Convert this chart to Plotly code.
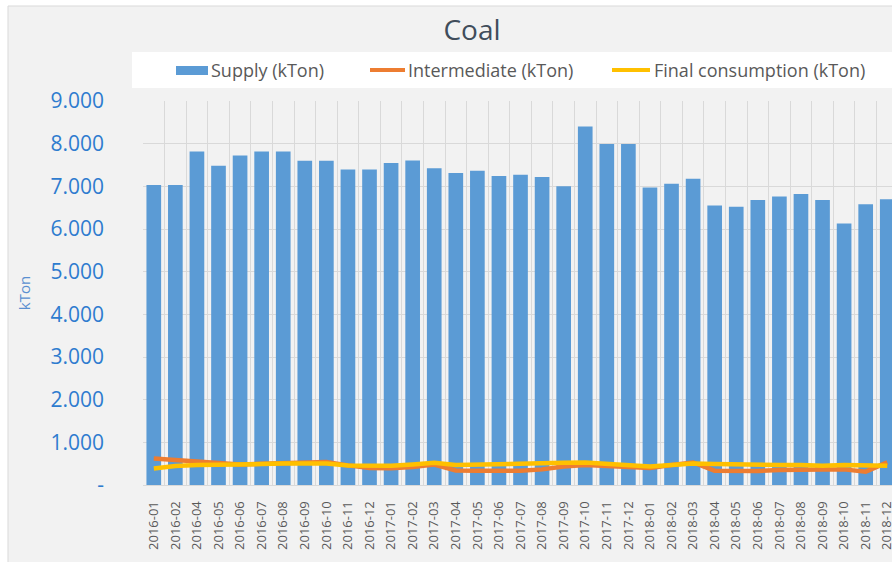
import plotly.graph_objects as go

categories = ['2016-01', '2016-02', '2016-04', '2016-05', '2016-06', '2016-07', '2016-08',
              '2016-09', '2016-10', '2016-11', '2016-12',
              '2017-01', '2017-02', '2017-03', '2017-04', '2017-05', '2017-06', '2017-07',
              '2017-08', '2017-09', '2017-10', '2017-11', '2017-12',
              '2018-01', '2018-02', '2018-03', '2018-04', '2018-05', '2018-06', '2018-07',
              '2018-08', '2018-09', '2018-10', '2018-11', '2018-12']

supply = [7030, 7030, 7815, 7480, 7720, 7815, 7815, 7600, 7600, 7395, 7395,
          7545, 7605, 7425, 7310, 7365, 7245, 7270, 7220, 7000, 8400, 7990, 7990,
          6970, 7060, 7180, 6550, 6520, 6680, 6760, 6820, 6680, 6130, 6580, 6700]

intermediate = [620, 590, 560, 510, 480, 500, 520, 530, 540, 460, 400,
                390, 420, 480, 340, 335, 335, 335, 366, 436, 467, 436, 413,
                397, 467, 529, 335, 327, 327, 350, 366, 366, 366, 312, 529]

final_consumption = [389, 444, 467, 467, 467, 490, 506, 506, 506, 459, 444,
                     452, 483, 522, 467, 483, 480, 490, 506, 522, 529, 506, 467,
                     436, 467, 506, 490, 483, 452, 467, 467, 452, 467, 467, 452]

y_ticks = [0, 1000, 2000, 3000, 4000, 5000, 6000, 7000, 8000, 9000]
y_ticktext = ['-', '1.000', '2.000', '3.000', '4.000', '5.000', '6.000', '7.000', '8.000', '9.000']

series_names = ['Supply (kTon)', 'Intermediate (kTon)', 'Final consumption (kTon)']
colors = ['#5b9bd5', '#ed7d31', '#ffc000']

W, H = 892, 562
ML, MR, MT, MB = 143, 0, 101, 77
PW, PH = W - ML - MR, H - MT - MB


def px(x):
    return (x - ML) / PW


def py(y):
    return (H - MB - y) / PH


fig = go.Figure()
fig.add_trace(go.Bar(x=categories, y=supply, name=series_names[0],
                     marker=dict(color=colors[0], line=dict(width=0)), showlegend=False))
fig.add_trace(go.Scatter(x=categories, y=intermediate, name=series_names[1], mode='lines',
                         line=dict(color=colors[1], width=4.5), showlegend=False))
fig.add_trace(go.Scatter(x=categories, y=final_consumption, name=series_names[2], mode='lines',
                         line=dict(color=colors[2], width=4.5), showlegend=False))

shapes = [
    # chart area background with border
    dict(type='rect', xref='paper', yref='paper', x0=px(8), x1=px(W + 20), y0=py(H + 20), y1=py(6),
         fillcolor='#f2f2f2', line=dict(color='#d9d9d9', width=1), layer='below'),
    # legend white band
    dict(type='rect', xref='paper', yref='paper', x0=px(132), x1=px(W + 20), y0=py(88), y1=py(52),
         fillcolor='white', line=dict(width=0), layer='below'),
    # legend swatches
    dict(type='rect', xref='paper', yref='paper', x0=px(176), x1=px(208), y0=py(75), y1=py(66),
         fillcolor=colors[0], line=dict(width=0)),
    dict(type='line', xref='paper', yref='paper', x0=px(370), x1=px(405), y0=py(70), y1=py(70),
         line=dict(color=colors[1], width=4)),
    dict(type='line', xref='paper', yref='paper', x0=px(612), x1=px(650), y0=py(70), y1=py(70),
         line=dict(color=colors[2], width=4)),
]

legend_font = dict(family='Open Sans', size=18, color='#595959')
annotations = [
    dict(text=series_names[0], xref='paper', yref='paper', x=px(209), y=py(70), xanchor='left',
         yanchor='middle', showarrow=False, font=legend_font),
    dict(text=series_names[1], xref='paper', yref='paper', x=px(406), y=py(70), xanchor='left',
         yanchor='middle', showarrow=False, font=legend_font),
    dict(text=series_names[2], xref='paper', yref='paper', x=px(652), y=py(70), xanchor='left',
         yanchor='middle', showarrow=False, font=legend_font),
]

fig.update_layout(
    width=W, height=H,
    margin=dict(l=ML, r=MR, t=MT, b=MB, autoexpand=False),
    paper_bgcolor='white',
    plot_bgcolor='#f2f2f2',
    bargap=0.32,
    showlegend=False,
    title=dict(text='Coal', xref='container', yref='container', x=472 / W, xanchor='center',
               y=1 - 30 / H, yanchor='middle',
               font=dict(family='Open Sans', size=28, color='#404d5b')),
    shapes=shapes,
    annotations=annotations,
    xaxis=dict(
        type='category',
        range=[-0.5, 34.22],
        tickangle=-90,
        tickson='boundaries',
        ticks='',
        showgrid=True, gridcolor='#d9d9d9', gridwidth=1,
        showline=True, linecolor='#d9d9d9', linewidth=1,
        tickfont=dict(family='Open Sans', size=13, color='#595959'),
        ticklabelstandoff=10,
        automargin=False,
        fixedrange=True,
    ),
    yaxis=dict(
        range=[0, 9000],
        tickvals=y_ticks,
        ticktext=y_ticktext,
        ticks='',
        showgrid=True, gridcolor='#d9d9d9', gridwidth=1,
        zeroline=False,
        showline=False,
        tickfont=dict(family='Open Sans', size=21, color='#2e7ccf'),
        ticklabelstandoff=38,
        title=dict(text='kTon', standoff=16,
                   font=dict(family='Open Sans', size=15, color='#5a8fd0')),
        automargin=False,
        fixedrange=True,
    ),
)

fig.write_html(
    'out.html',
    config={'displayModeBar': False},
    post_script="document.body.style.margin='0px';document.body.style.overflow='hidden';"
                "document.documentElement.style.overflow='hidden';",
)
